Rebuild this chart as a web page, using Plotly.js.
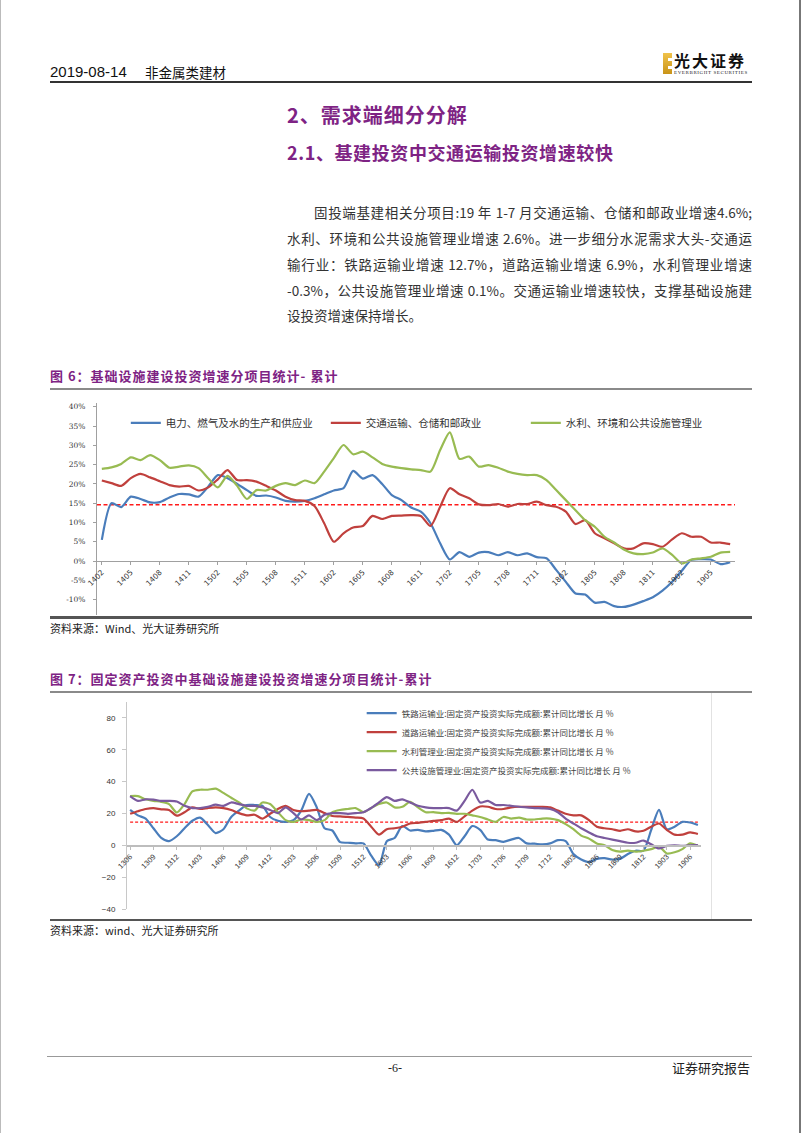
<!DOCTYPE html>
<html>
<head>
<meta charset="utf-8">
<script src="https://cdn.plot.ly/plotly-3.0.1.min.js"></script>
<style>
  html, body { margin:0; padding:0; background:#fff; }
  #page { position:relative; width:802px; height:1133px; overflow:hidden; background:#fff;
          font-family:"Noto Sans CJK SC","Noto Sans",sans-serif; color:#222; }
  .abs { position:absolute; white-space:nowrap; }
  .rule { position:absolute; }
  .para { position:absolute; left:287px; width:465px; height:18px; line-height:18px; font-size:13.5px;
          color:#333; text-align:justify; text-align-last:justify; white-space:nowrap; }
  .purple { color:#7e2384; font-weight:bold; }
</style>
</head>
<body>
<div id="page">
  <!-- page borders -->
  <div class="rule" style="left:0;top:0;width:1px;height:1133px;background:#bbb;"></div>
  <div class="rule" style="left:799px;top:0;width:2px;height:1133px;background:#777;"></div>

  <!-- header -->
  <div class="abs" style="left:50px;top:63px;font-family:'Liberation Sans Narrow','Liberation Sans',sans-serif;font-size:15px;line-height:18px;color:#111;">2019-08-14</div>
  <div class="abs" style="left:145px;top:63px;font-size:13.5px;line-height:18px;color:#111;">非金属类建材</div>
  <div class="rule" style="left:50px;top:81px;width:702px;height:1.5px;background:#333;"></div>
  <!-- logo -->
  <div class="rule" style="left:663px;top:53px;width:9px;height:21px;background:linear-gradient(180deg,#f0c24a,#c99418);"></div>
  <div class="rule" style="left:668px;top:58px;width:4px;height:3px;background:#fff;"></div>
  <div class="rule" style="left:668px;top:66px;width:4px;height:3px;background:#fff;"></div>
  <div class="abs" style="left:674px;top:51px;font-size:16px;line-height:18px;font-weight:bold;color:#111;letter-spacing:2px;">光大证券</div>
  <div class="abs" style="left:674px;top:70px;font-family:'Liberation Serif',serif;font-size:5px;line-height:6px;color:#222;letter-spacing:0.6px;">EVERBRIGHT SECURITIES</div>

  <!-- titles -->
  <div class="abs purple" style="left:287px;top:103px;font-size:20px;line-height:24px;letter-spacing:1px;">2、需求端细分分解</div>
  <div class="abs purple" style="left:287px;top:141px;font-size:18px;line-height:22px;letter-spacing:0.6px;">2.1、基建投资中交通运输投资增速较快</div>

  <!-- paragraph -->
  <div class="para" style="top:203px;padding-left:27px;width:438px;">固投端基建相关分项目:19 年 1-7 月交通运输、仓储和邮政业增速4.6%;</div>
  <div class="para" style="top:229px;">水利、环境和公共设施管理业增速 2.6%。进一步细分水泥需求大头-交通运</div>
  <div class="para" style="top:255px;">输行业：铁路运输业增速 12.7%，道路运输业增速 6.9%，水利管理业增速</div>
  <div class="para" style="top:281px;">-0.3%，公共设施管理业增速 0.1%。交通运输业增速较快，支撑基础设施建</div>
  <div class="para" style="top:306px;text-align:left;text-align-last:left;">设投资增速保持增长。</div>

  <!-- figure 6 -->
  <div class="abs purple" style="left:50px;top:368px;font-size:13px;line-height:16px;letter-spacing:1px;">图 6：基础设施建设投资增速分项目统计- 累计</div>
  <div class="rule" style="left:50px;top:388px;width:702px;height:1.5px;background:#8a8a8a;"></div>
  <div id="chart1" style="position:absolute;left:50px;top:390px;width:702px;height:227px;"></div>
  <div class="rule" style="left:50px;top:616px;width:702px;height:2.5px;background:#555;"></div>
  <div class="abs" style="left:50px;top:621px;font-size:11px;line-height:14px;color:#222;">资料来源：Wind、光大证券研究所</div>

  <!-- figure 7 -->
  <div class="abs purple" style="left:50px;top:671px;font-size:13px;line-height:16px;letter-spacing:1px;">图 7：固定资产投资中基础设施建设投资增速分项目统计-累计</div>
  <div class="rule" style="left:50px;top:691px;width:702px;height:1.5px;background:#8a8a8a;"></div>
  <div id="chart2" style="position:absolute;left:50px;top:693px;width:702px;height:227px;"></div>
  <div class="rule" style="left:711px;top:693px;width:1px;height:226px;background:#e2e2e2;"></div>
  <div class="rule" style="left:50px;top:919px;width:702px;height:2px;background:#555;"></div>
  <div class="abs" style="left:50px;top:923px;font-size:11px;line-height:14px;color:#222;">资料来源：wind、光大证券研究所</div>

  <!-- footer -->
  <div class="rule" style="left:47px;top:1056px;width:705px;height:1px;background:#999;"></div>
  <div class="abs" style="left:388px;top:1061px;font-family:'Liberation Serif',serif;font-size:12px;line-height:14px;color:#222;">-6-</div>
  <div class="abs" style="left:672px;top:1060px;font-size:13px;line-height:16px;color:#222;">证券研究报告</div>
</div>

<script>
// ---------------- Figure 6 data ----------------
const months1 = ['1402','1403','1404','1405','1406','1407','1408','1409','1410','1411','1412',
  '1501','1502','1503','1504','1505','1506','1507','1508','1509','1510','1511','1512',
  '1601','1602','1603','1604','1605','1606','1607','1608','1609','1610','1611','1612',
  '1701','1702','1703','1704','1705','1706','1707','1708','1709','1710','1711','1712',
  '1801','1802','1803','1804','1805','1806','1807','1808','1809','1810','1811','1812',
  '1901','1902','1903','1904','1905','1906','1907'];
const ticks1 = ['1402','1405','1408','1411','1502','1505','1508','1511','1602','1605','1608','1611',
  '1702','1705','1708','1711','1802','1805','1808','1811','1902','1905'];
const names1 = ['电力、燃气及水的生产和供应业','交通运输、仓储和邮政业','水利、环境和公共设施管理业'];
const power = [5.5,15.0,14.0,16.7,16.1,15.2,15.3,16.5,17.4,17.3,16.7,
  19.3,22.3,21.5,20.0,18.4,16.9,17.0,16.5,15.6,15.4,15.6,16.3,
  17.3,18.3,18.9,23.4,21.4,22.3,20.0,17.1,15.8,13.9,12.8,9.8,
  4.6,0.4,2.3,1.1,2.2,2.3,1.5,2.3,1.5,2.0,1.0,0.7,
  -2.3,-5.4,-8.4,-8.7,-10.8,-10.6,-11.7,-11.9,-11.3,-10.4,-9.4,-7.7,
  -5.4,-2.5,0.3,0.5,0.4,-0.8,-0.3];
const transport = [20.9,20.2,19.5,21.5,22.6,21.7,20.7,19.7,19.3,19.5,18.3,
  19.1,21.2,23.6,21.0,21.0,20.6,19.5,18.3,16.7,15.8,15.6,14.3,
  9.8,5.0,7.2,8.7,9.1,11.7,10.9,11.7,11.8,11.9,11.7,9.1,
  14.1,18.9,17.3,16.3,14.7,14.5,14.8,14.1,14.8,14.8,15.4,14.5,
  14.1,12.8,9.6,10.6,7.2,5.9,4.6,3.3,3.3,4.6,4.4,3.7,
  5.6,7.2,6.3,6.3,4.8,4.8,4.4];
const water = [23.9,24.3,25.2,26.9,26.2,27.5,26.2,24.2,24.5,24.8,24.1,
  21.5,19.1,22.1,19.5,16.1,18.4,18.3,19.5,20.2,19.7,20.9,20.2,
  23.2,26.7,30.1,27.7,28.4,26.9,25.2,24.5,24.1,23.8,23.6,23.2,
  28.8,33.4,26.5,27.1,24.5,24.9,24.2,23.2,22.6,22.3,22.3,21.0,
  18.4,15.8,13.2,10.6,8.9,6.3,4.8,3.0,2.0,1.8,2.2,3.3,
  1.6,-0.6,0.4,0.7,1.1,2.2,2.4];
const refLine1 = 14.6;
const yTicks1 = [-10,-5,0,5,10,15,20,25,30,35,40];
const yTickText1 = ['-10%','-5%','0%','5%','10%','15%','20%','25%','30%','35%','40%'];

// ---------------- Figure 7 data ----------------
const months2 = ['1306','1307','1308','1309','1310','1311','1312',
  '1401','1402','1403','1404','1405','1406','1407','1408','1409','1410','1411','1412',
  '1501','1502','1503','1504','1505','1506','1507','1508','1509','1510','1511','1512',
  '1601','1602','1603','1604','1605','1606','1607','1608','1609','1610','1611','1612',
  '1701','1702','1703','1704','1705','1706','1707','1708','1709','1710','1711','1712',
  '1801','1802','1803','1804','1805','1806','1807','1808','1809','1810','1811','1812',
  '1901','1902','1903','1904','1905','1906','1907'];
const ticks2 = ['1306','1309','1312','1403','1406','1409','1412','1503','1506','1509','1512',
  '1603','1606','1609','1612','1703','1706','1709','1712','1803','1806','1809','1812','1903','1906'];
const names2 = ['铁路运输业:固定资产投资实际完成额:累计同比增长 月 %',
  '道路运输业:固定资产投资实际完成额:累计同比增长 月 %',
  '水利管理业:固定资产投资实际完成额:累计同比增长 月 %',
  '公共设施管理业:固定资产投资实际完成额:累计同比增长 月 %'];
const railway = [22.2,18.8,16.8,10.7,4.6,2.6,5.7,
  10.7,15.4,17.4,12.7,7.7,10.1,17.8,21.8,25.3,25.3,24.8,17.8,
  15.4,14.7,15.8,21.8,32.3,23.8,10.7,9.3,2.0,1.6,1.2,1.2,
  -6.5,-12.5,2.6,4.6,12.1,9.3,9.7,8.7,9.1,9.7,6.7,0.0,
  5.7,12.1,9.7,3.6,3.2,2.2,3.6,4.6,1.2,1.0,0.6,1.2,
  3.2,2.6,-5.5,-8.9,-10.5,-8.5,-8.1,-8.9,-8.5,-5.5,-3.4,-3.4,
  9.7,22.2,10.1,11.7,14.7,14.3,12.7];
const road = [19.8,21.4,22.8,23.4,22.6,22.2,18.6,
  20.8,23.8,22.8,23.4,23.8,23.4,22.2,20.2,18.8,19.2,16.8,19.8,
  22.8,24.8,22.2,21.4,21.8,22.2,20.2,18.4,18.2,17.8,17.4,16.8,
  11.7,6.7,10.1,10.7,11.7,13.7,14.1,14.7,15.4,15.8,16.8,14.7,
  18.2,21.8,24.4,24.2,22.8,22.8,23.8,24.2,24.2,24.2,24.2,23.8,
  21.8,19.8,18.8,18.8,15.8,11.7,10.7,10.1,9.1,10.1,8.7,9.1,
  11.7,13.7,9.7,6.7,6.7,8.1,7.1];
const waterMgmt = [30.9,30.9,28.9,27.9,27.3,25.9,20.6,
  25.9,33.9,34.9,34.9,35.6,32.9,29.9,26.9,23.2,21.8,26.9,25.9,
  20.8,15.8,14.7,16.2,15.8,14.7,15.8,20.8,22.2,22.8,23.4,20.8,
  23.4,25.9,26.9,23.8,24.2,27.3,23.8,20.8,20.8,20.2,20.4,19.8,
  19.8,18.8,17.8,16.2,14.7,17.8,16.8,17.4,16.2,16.2,16.8,16.8,
  15.8,13.3,10.1,6.1,4.2,1.2,0.0,-3.0,-4.0,-3.4,-4.0,-3.4,
  -2.4,-0.8,-5.1,-4.4,-2.4,1.2,-0.3];
const publicFac = [30.9,27.9,28.9,28.7,27.9,27.9,27.5,
  24.8,23.4,23.4,24.2,25.5,24.8,26.9,25.9,24.8,24.8,23.8,22.2,
  20.2,23.8,20.2,16.2,18.8,15.8,19.2,20.2,20.2,19.8,20.2,20.8,
  23.4,26.9,30.3,27.9,28.9,26.9,24.8,23.8,23.4,23.4,23.4,21.8,
  27.9,34.9,26.9,27.9,25.3,25.3,24.8,24.2,23.8,23.4,23.2,22.8,
  20.8,16.8,13.7,10.7,8.1,5.7,4.6,3.6,2.6,1.6,1.6,3.0,
  0.6,-2.0,-0.4,0.0,-0.4,0.0,0.1];
const refLine2 = 14.5;
const yTicks2 = [-40,-20,0,20,40,60,80];

// ---------------- styles ----------------
const colBlue = '#4a7dbb', colRed = '#c0403d', colGreen = '#98bb52', colPurple = '#7a5a9e';
const cjk = '"Noto Sans CJK SC", "Noto Sans", sans-serif';

function line(x, y, name, color) {
  return { type:'scatter', mode:'lines', x:x, y:y, name:name,
           line:{ color:color, width:2.2, shape:'spline', smoothing:0.7 } };
}

// ---------------- chart 1 ----------------
const yr1 = [-14, 41];
Plotly.newPlot('chart1', [
  line(months1, power, names1[0], colBlue),
  line(months1, transport, names1[1], colRed),
  line(months1, water, names1[2], colGreen)
], {
  width:702, height:227,
  margin:{ l:47, r:17, t:13, b:2, autoexpand:false },
  paper_bgcolor:'rgba(0,0,0,0)', plot_bgcolor:'rgba(0,0,0,0)',
  font:{ family:cjk, size:9, color:'#333' },
  showlegend:true,
  legend:{ orientation:'h', xref:'container', yref:'container', x:0.108, y:0.855,
           xanchor:'left', yanchor:'middle', bgcolor:'rgba(0,0,0,0)',
           font:{ family:cjk, size:10.5, color:'#333' },
           entrywidth:155, entrywidthmode:'pixels', itemwidth:30 },
  xaxis:{ type:'category', range:[-0.5, months1.length - 0.5], tickmode:'array',
          tickvals:ticks1, ticktext:ticks1, tickangle:-45,
          anchor:'free', position:(0 - yr1[0]) / (yr1[1] - yr1[0]),
          showline:true, linecolor:'#a0a0a0', linewidth:1,
          ticks:'outside', ticklen:3, tickcolor:'#a0a0a0',
          showgrid:false, zeroline:false,
          tickfont:{ family:'"DejaVu Sans", sans-serif', size:7.5, color:'#333' } },
  yaxis:{ range:yr1, tickmode:'array', tickvals:yTicks1, ticktext:yTickText1,
          showline:true, linecolor:'#a0a0a0', linewidth:1,
          ticks:'outside', ticklen:3, tickcolor:'#a0a0a0',
          showgrid:false, zeroline:false, ticklabelstandoff:6,
          tickfont:{ family:'"DejaVu Serif", serif', size:7.5, color:'#333' } },
  shapes:[{ type:'line', xref:'paper', x0:0, x1:1, yref:'y', y0:refLine1, y1:refLine1,
            line:{ color:'#ff1a1a', width:1.5, dash:'4px,2.5px' }, layer:'below' }]
}, { displayModeBar:false, staticPlot:true });

// ---------------- chart 2 ----------------
const yr2 = [-40, 90];
Plotly.newPlot('chart2', [
  line(months2, railway, names2[0], colBlue),
  line(months2, road, names2[1], colRed),
  line(months2, waterMgmt, names2[2], colGreen),
  line(months2, publicFac, names2[3], colPurple)
], {
  width:702, height:227,
  margin:{ l:77, r:51, t:9, b:11, autoexpand:false },
  paper_bgcolor:'rgba(0,0,0,0)', plot_bgcolor:'rgba(0,0,0,0)',
  font:{ family:cjk, size:8, color:'#444' },
  showlegend:true,
  legend:{ orientation:'v', xref:'container', yref:'container', x:0.444, y:0.975,
           xanchor:'left', yanchor:'top', bgcolor:'rgba(0,0,0,0)',
           font:{ family:cjk, size:8.5, color:'#444' }, itemwidth:30, tracegroupgap:0 },
  xaxis:{ type:'category', range:[-0.4, months2.length - 0.6], tickmode:'array',
          tickvals:ticks2, ticktext:ticks2, tickangle:-45,
          anchor:'free', position:(0 - yr2[0]) / (yr2[1] - yr2[0]),
          showline:true, linecolor:'#bdbdbd', linewidth:1.2,
          ticks:'outside', ticklen:3, tickcolor:'#bdbdbd',
          showgrid:false, zeroline:false,
          tickfont:{ family:'"Liberation Sans", sans-serif', size:7.5, color:'#333' } },
  yaxis:{ range:yr2, tickmode:'array', tickvals:yTicks2,
          showline:true, linecolor:'#c8c8c8', linewidth:1,
          ticks:'outside', ticklen:4, tickcolor:'#c8c8c8',
          showgrid:false, zeroline:false, ticklabelstandoff:5,
          tickfont:{ family:'"Liberation Sans", sans-serif', size:8, color:'#333' } },
  shapes:[{ type:'line', xref:'x', x0:0, x1:months2.length - 1, yref:'y',
            y0:refLine2, y1:refLine2,
            line:{ color:'#ff1a1a', width:1.3, dash:'3px,2px' }, layer:'below' }]
}, { displayModeBar:false, staticPlot:true });
</script>
</body>
</html>
